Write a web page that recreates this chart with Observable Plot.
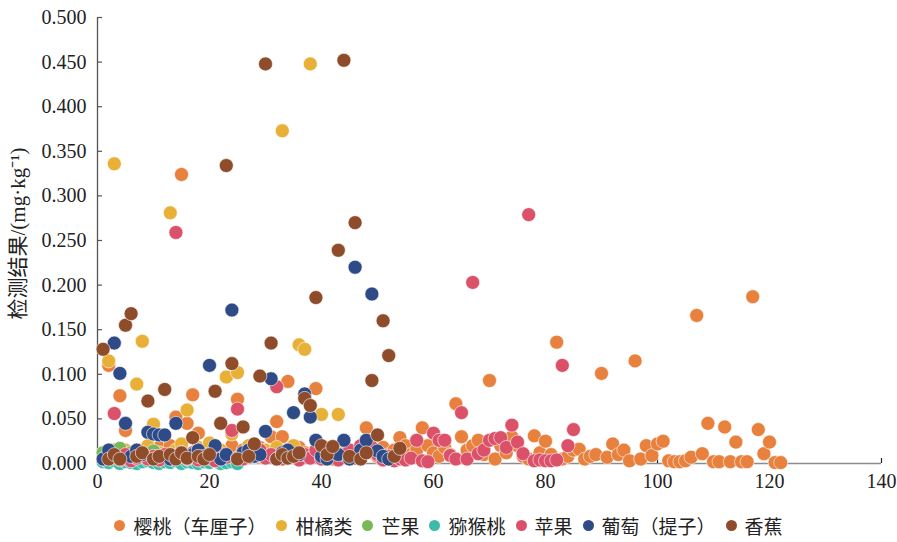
<!DOCTYPE html>
<html>
<head>
<meta charset="utf-8">
<script src="https://cdn.jsdelivr.net/npm/d3@7"></script>
<script src="https://cdn.jsdelivr.net/npm/@observablehq/plot@0.6"></script>
<style>
  body { margin: 0; background: #fff; }
  #wrap { width: 897px; height: 542px; position: relative; }
  #legend { position: absolute; left: 0; top: 512px; width: 897px; display: flex; justify-content: center; align-items: center;
    font-family: "Noto Sans CJK SC", sans-serif; font-size: 19px; color: #222; }
  .item { display: flex; align-items: center; margin: 0 5px; }
  .sw { width: 11px; height: 11px; border-radius: 50%; margin-right: 8px; }
</style>
</head>
<body>
<div id="wrap"><div id="chart"></div><div id="legend"></div></div>
<script>
const seriesNames = ["樱桃（车厘子）", "柑橘类", "芒果", "猕猴桃", "苹果", "葡萄（提子）", "香蕉"];
const seriesColors = ["#E8803E", "#E8B037", "#78B856", "#3DBBAA", "#DC516A", "#2F4B87", "#8F4C2B"];
const xTicks = [0, 20, 40, 60, 80, 100, 120, 140];
const yTicks = [0, 0.05, 0.1, 0.15, 0.2, 0.25, 0.3, 0.35, 0.4, 0.45, 0.5];

// values by sample number (1, 2, 3, ...)
const cherry = [0.010,0.110,0.012,0.076,0.037,0.012,0.008,0.015,0.005,0.010,
  0.018,0.008,0.020,0.052,0.324,0.045,0.077,0.034,0.010,0.015,
  0.008,0.012,0.005,0.020,0.072,0.015,0.010,0.008,0.018,0.012,
  0.030,0.047,0.030,0.092,0.020,0.018,0.012,0.008,0.084,0.015,
  0.010,0.005,0.012,0.008,0.015,0.010,0.020,0.040,0.012,0.008,
  0.018,0.010,0.015,0.029,0.020,0.010,0.015,0.040,0.020,0.012,
  0.008,0.018,0.010,0.067,0.030,0.015,0.020,0.026,0.010,0.093,
  0.005,0.020,0.012,0.030,0.020,0.008,0.005,0.031,0.012,0.025,
  0.010,0.136,0.005,0.008,0.015,0.016,0.005,0.008,0.010,0.101,
  0.007,0.022,0.010,0.015,0.003,0.115,0.005,0.020,0.009,0.022,
  0.025,0.003,0.002,0.002,0.003,0.007,0.166,0.011,0.045,0.002,
  0.002,0.041,0.002,0.024,0.002,0.002,0.187,0.038,0.011,0.024,
  0.001,0.001];
const citrus = [0.012,0.115,0.336,0.008,0.015,0.010,0.089,0.137,0.020,0.044,
  0.012,0.008,0.281,0.015,0.022,0.060,0.010,0.018,0.012,0.023,
  0.008,0.015,0.097,0.033,0.102,0.010,0.020,0.012,0.008,0.015,
  0.010,0.018,0.373,0.012,0.020,0.133,0.128,0.448,0.015,0.055,
  0.010,0.008,0.055,0.012,0.006];
const mango = [0.012,0.010,0.015,0.017,0.008,0.012,0.005,0.010,0.006,0.014,
  0.008,0.004,0.010,0.006,0.012,0.005,0.008,0.003,0.010,0.006];
const kiwi = [0.002,0.001,0.003,0.000,0.002,0.001,0.000,0.002,0.003,0.001,
  0.000,0.002,0.001,0.003,0.000,0.002,0.001,0.000,0.002,0.001,
  0.003,0.000,0.001,0.002,0.000];
const apple = [0.005,0.008,0.056,0.004,0.010,0.003,0.006,0.012,0.005,0.008,
  0.004,0.010,0.006,0.259,0.008,0.005,0.012,0.004,0.009,0.006,
  0.003,0.010,0.007,0.037,0.061,0.005,0.012,0.008,0.015,0.006,
  0.010,0.086,0.005,0.012,0.008,0.004,0.010,0.006,0.015,0.005,
  0.008,0.012,0.004,0.010,0.015,0.006,0.020,0.012,0.018,0.010,
  0.004,0.008,0.003,0.005,0.004,0.006,0.026,0.003,0.002,0.034,
  0.026,0.026,0.009,0.005,0.057,0.005,0.203,0.011,0.015,0.026,
  0.028,0.029,0.018,0.043,0.024,0.011,0.279,0.003,0.004,0.003,
  0.003,0.004,0.110,0.020,0.038];
const grape = [0.005,0.015,0.135,0.101,0.045,0.008,0.015,0.010,0.035,0.033,
  0.032,0.032,0.005,0.045,0.012,0.006,0.010,0.015,0.008,0.110,
  0.020,0.005,0.010,0.172,0.006,0.012,0.015,0.008,0.010,0.036,
  0.095,0.005,0.012,0.015,0.057,0.010,0.078,0.052,0.026,0.008,
  0.005,0.012,0.010,0.026,0.005,0.220,0.015,0.026,0.190,0.014,
  0.008,0.005];
const banana = [0.128,0.005,0.010,0.005,0.155,0.168,0.008,0.012,0.070,0.005,
  0.008,0.083,0.010,0.005,0.012,0.006,0.029,0.008,0.005,0.010,
  0.081,0.045,0.334,0.112,0.005,0.041,0.008,0.022,0.098,0.448,
  0.135,0.005,0.010,0.006,0.008,0.012,0.073,0.065,0.186,0.020,
  0.010,0.019,0.239,0.452,0.008,0.270,0.005,0.012,0.093,0.032,
  0.160,0.121,0.008,0.017];

const seriesValues = [cherry, citrus, mango, kiwi, apple, grape, banana];
const data = [];
seriesNames.forEach((name, i) => seriesValues[i].forEach((v, j) => data.push({name, x: j + 1, y: v})));

const W = 897, H = 500, mL = 97, mR = 16, mT = 17, mB = 37;
const plotW = W - mL - mR, plotH = H - mT - mB;

const chart = Plot.plot({
  width: W, height: H,
  marginLeft: mL, marginRight: mR, marginTop: mT, marginBottom: mB,
  style: {fontFamily: "'Liberation Serif', 'Times New Roman', serif", fontSize: "20px", color: "#222", background: "#fff"},
  x: {domain: [0, 140]},
  y: {domain: [0, 0.5]},
  color: {domain: seriesNames, range: seriesColors},
  marks: [
    Plot.ruleY([0], {stroke: "#8c8c8c", strokeWidth: 1.6}),
    Plot.ruleX(xTicks, {x: d => d, insetTop: plotH - 5, stroke: "#222", strokeWidth: 1.2}),
    Plot.ruleY(yTicks, {y: d => d, insetRight: plotW - 5, stroke: "#555", strokeWidth: 1.2}),
    Plot.ruleX([0], {stroke: "#555", strokeWidth: 1.3}),
    Plot.axisX({ticks: xTicks, tickSize: 0, tickPadding: 10, tickFormat: d3.format("d"), label: null}),
    Plot.axisY({ticks: yTicks, tickSize: 0, tickPadding: 11, tickFormat: d3.format(".3f"), label: null}),
    Plot.dot(data, {x: "x", y: "y", fill: "name", r: 7, stroke: "white", strokeWidth: 0.6}),
    Plot.text(["检测结果/(mg·kg⁻¹)"], {frameAnchor: "left", textAnchor: "middle", dx: -79, dy: -7, rotate: -90, fontSize: 21,
      fontFamily: "'Liberation Serif', 'Noto Sans CJK SC', serif", fill: "#222"})
  ]
});
document.getElementById("chart").appendChild(chart);

const legend = document.getElementById("legend");
seriesNames.forEach((n, i) => {
  const it = document.createElement("div");
  it.className = "item";
  it.innerHTML = `<span class="sw" style="background:${seriesColors[i]}"></span><span>${n}</span>`;
  legend.appendChild(it);
});
</script>
</body>
</html>
